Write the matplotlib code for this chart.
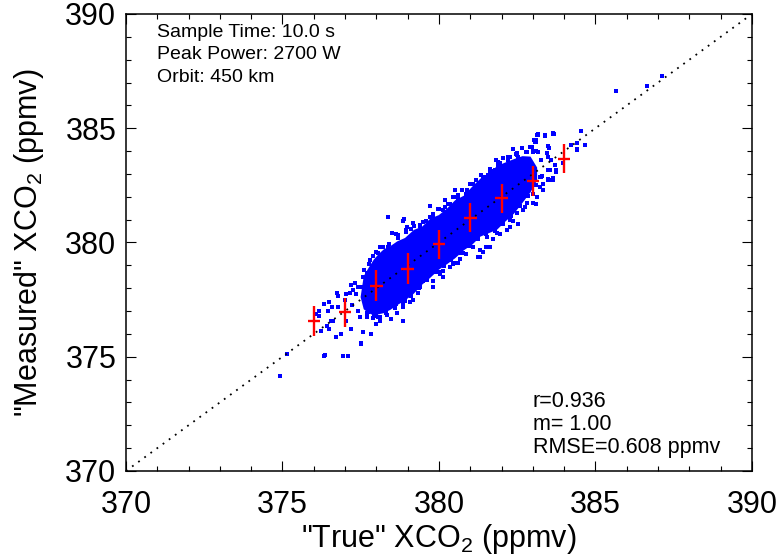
import matplotlib
matplotlib.use("Agg")
import matplotlib.pyplot as plt
from matplotlib.ticker import MultipleLocator

plt.rcParams['font.family'] = ['Liberation Sans', 'DejaVu Sans']
plt.rcParams['mathtext.fontset'] = 'custom'
plt.rcParams['mathtext.rm'] = 'Liberation Sans'
plt.rcParams['mathtext.it'] = 'Liberation Sans'

# dense core of the true/measured cloud (ppmv): outline
core_x = [377.48, 377.58, 377.74, 377.90, 378.06, 378.22, 378.44, 378.65, 378.90,
          379.18, 379.45, 379.71, 379.98, 380.25, 380.50, 380.78, 381.05, 381.31,
          381.58, 381.84, 382.10, 382.38, 382.65, 382.91, 383.12]
core_hi = [377.63, 378.55, 378.92, 379.27, 379.52, 379.72, 379.87, 380.07, 380.22,
           380.57, 380.72, 381.07, 381.22, 381.52, 381.87, 382.07, 382.47, 382.82,
           383.02, 383.37, 383.52, 383.67, 383.80, 383.78, 383.30]
core_lo = [377.63, 377.10, 376.93, 376.83, 376.88, 376.93, 377.08, 377.28, 377.48,
           377.78, 378.18, 378.48, 378.83, 379.08, 379.33, 379.68, 379.93, 380.28,
           380.43, 380.58, 380.93, 381.28, 381.75, 382.22, 382.75]

# scattered soundings around the core
pts_x = [383.14, 383.40, 383.66, 383.11, 382.97, 383.11, 382.79, 382.36, 382.47, 382.20,
         382.52, 381.83, 381.88, 381.62, 381.35, 381.56, 381.19, 380.98, 380.74, 380.87,
         380.50, 380.55, 380.18, 380.34, 379.96, 380.12, 379.80, 379.59, 379.38, 379.11,
         378.84, 378.36, 378.95, 378.63, 378.10, 378.36, 377.99, 377.78, 377.51, 377.19,
         377.35, 377.03, 376.76, 376.50, 376.34, 376.18, 376.07, 376.44, 376.60, 376.87,
         376.71, 376.50, 377.03, 377.19, 377.51, 376.34, 376.92, 377.56, 377.83, 377.99,
         378.10, 378.84, 378.47,
         383.75, 383.48, 383.64, 383.54, 383.22, 383.32, 383.00, 382.74, 382.52, 382.36,
         382.26, 381.94, 381.72, 381.51, 381.30, 381.24, 380.87, 380.66, 380.44, 380.34,
         380.02, 379.80, 379.48, 379.32, 379.06, 378.90, 378.63, 378.31, 378.10, 377.94,
         377.72, 379.11, 379.70, 380.66, 380.12,
         385.67, 387.13, 386.66, 384.54, 384.40, 384.66, 384.23, 384.42, 383.64, 383.16,
         383.38, 383.02, 383.11, 383.51, 382.95, 383.16, 383.48, 383.59, 383.70, 383.73,
         383.48, 383.64, 383.27, 383.09,
         376.35, 377.09, 374.93, 375.14, 377.51, 376.18, 376.18, 376.23, 376.41, 376.55,
         378.38, 378.88, 378.97, 379.39, 379.71, 380.19, 380.46, 380.72, 380.62, 380.88,
         380.99, 381.20, 381.36, 381.47, 381.63, 381.79, 381.90, 382.06, 382.27, 382.48,
         382.64, 382.91, 383.07, 383.17, 383.39, 383.65, 383.49, 383.01, 383.44, 382.06,
         381.52, 380.19, 379.71, 379.18, 378.70, 378.49, 378.11, 378.06, 377.80, 377.85,
         377.69, 377.58, 377.32, 377.42, 377.26, 377.16, 376.73, 377.00, 376.78, 376.57,
         377.21,
         384.40, 383.97, 383.55, 383.65, 383.33, 383.12, 383.01, 382.80, 382.48, 382.27,
         382.06, 382.16, 381.84, 381.63, 381.42, 381.31, 381.10, 380.78, 380.62, 380.35,
         380.14, 380.03, 379.82, 379.61, 379.39, 379.34, 379.18, 379.07, 378.86, 378.65,
         378.33, 378.06, 377.90, 377.69, 377.48, 380.51, 380.30, 380.99, 381.52, 382.70,
         383.23, 383.49,
         377.60, 377.90, 378.20, 378.40, 378.70, 378.95, 379.20, 379.50, 379.80, 380.00,
         380.30, 380.60, 380.90, 381.10, 381.40, 381.70, 381.95, 382.20, 382.50, 382.80,
         383.00, 383.25,
         377.40, 377.70, 378.00, 378.30, 378.60, 378.85, 379.10, 379.35, 379.60, 379.90,
         380.15, 380.40, 380.70, 380.95, 381.25, 381.50, 381.80, 382.05, 382.30, 382.60,
         382.85, 383.10, 383.30]
pts_y = [384.69, 384.69, 384.74, 384.47, 384.18, 383.99, 383.96, 384.11, 383.89, 383.74,
         383.74, 383.60, 383.38, 383.23, 382.94, 382.94, 382.72, 382.57, 382.28, 382.13,
         382.28, 381.99, 381.84, 381.70, 381.48, 381.40, 381.11, 380.96, 380.75, 380.60,
         380.96, 381.11, 380.53, 380.38, 379.79, 379.79, 379.58, 379.06, 378.04, 378.16,
         377.75, 377.75, 377.67, 377.38, 377.31, 377.02, 376.87, 377.02, 376.58, 375.99,
         375.85, 376.21, 376.58, 376.21, 375.59, 375.04, 375.04, 376.07, 375.99, 376.43,
         376.58, 376.58, 376.65,
         383.08, 382.72, 382.75, 383.16, 382.87, 382.57, 382.13, 381.55, 380.82, 380.96,
         380.67, 380.38, 380.16, 379.79, 379.65, 379.36, 379.50, 379.28, 379.06, 378.92,
         378.63, 378.33, 378.33, 378.04, 377.75, 377.46, 377.31, 377.16, 376.73, 376.87,
         376.95, 377.89, 378.92, 379.79, 378.77,
         386.64, 387.28, 386.87, 384.88, 384.36, 384.25, 384.25, 384.07, 384.74, 384.74,
         384.65, 384.50, 384.40, 384.15, 384.18, 383.96, 383.74, 383.60, 383.38, 383.16,
         382.79, 382.79, 382.86, 381.70,
         375.09, 375.04, 374.16, 375.12, 375.56, 377.02, 376.80, 376.11, 376.36, 376.55,
         381.13, 381.01, 380.69, 380.72, 381.60, 381.86, 382.00, 381.86, 382.08, 382.08,
         382.22, 382.37, 382.52, 382.88, 383.03, 383.17, 383.54, 383.68, 383.76, 383.90,
         384.12, 384.19, 384.41, 384.70, 384.70, 384.78, 384.22, 383.98, 383.90, 383.17,
         382.59, 381.57, 381.13, 380.84, 380.33, 380.40, 379.82, 379.53, 379.23, 378.94,
         378.65, 378.51, 378.21, 378.07, 377.92, 377.78, 377.78, 377.48, 377.19, 377.19,
         377.26,
         384.05, 383.46, 382.73, 382.81, 382.30, 382.00, 381.71, 381.71, 381.28, 380.98,
         380.84, 380.55, 380.40, 379.82, 379.60, 379.38, 379.82, 379.53, 379.09, 378.94,
         378.50, 378.72, 378.07, 378.36, 378.07, 377.78, 377.48, 377.41, 377.19, 376.90,
         376.83, 376.75, 376.68, 376.90, 376.75, 379.09, 379.38, 380.11, 380.25, 381.42,
         382.44, 383.17,
         378.80, 379.40, 379.80, 379.95, 380.20, 380.45, 380.70, 380.90, 381.25, 381.45,
         381.70, 381.95, 382.30, 382.55, 382.85, 383.15, 383.50, 383.60, 383.85, 383.95,
         384.00, 383.60,
         377.00, 376.75, 376.80, 376.90, 377.15, 377.35, 377.65, 378.00, 378.35, 378.70,
         378.95, 379.25, 379.55, 379.85, 380.15, 380.35, 380.50, 380.80, 381.15, 381.60,
         382.05, 382.50, 382.90]

# binned means with spread
bin_true = [376, 377, 378, 379, 380, 381, 382, 383, 384]
bin_meas = [376.58, 376.94, 378.11, 378.85, 379.92, 381.08, 381.93, 382.69, 383.67]
bin_std = [0.66, 0.63, 0.69, 0.67, 0.64, 0.64, 0.64, 0.67, 0.63]
bin_halfwidth = 0.2

top_notes = ["Sample Time: 10.0 s", "Peak Power: 2700 W", "Orbit: 450 km"]
stat_notes = ["r=0.936", "m= 1.00", "RMSE=0.608 ppmv"]

fig = plt.figure(figsize=(7.82, 5.55), dpi=100)
ax = fig.add_axes([0.1611, 0.1514, 0.8005, 0.8234])

ax.fill_between(core_x, core_lo, core_hi, color='#0000ff', lw=0)
ax.plot(pts_x, pts_y, 's', color='#0000ff', ms=2.4, mew=0)
ax.plot([370, 390], [370, 390], color='black', lw=1.3, ls=(0, (1, 3.2)))
ax.errorbar(bin_true, bin_meas, xerr=bin_halfwidth, yerr=bin_std, fmt='none',
            ecolor='#ff0000', elinewidth=1.7, capsize=0)

ax.set_xlim(370, 390)
ax.set_ylim(370, 390)
ax.xaxis.set_major_locator(MultipleLocator(5))
ax.yaxis.set_major_locator(MultipleLocator(5))
ax.xaxis.set_minor_locator(MultipleLocator(1))
ax.yaxis.set_minor_locator(MultipleLocator(1))
ax.tick_params(which='both', direction='in', top=True, right=True, width=0.8, labelsize=22)
ax.tick_params(which='major', length=7)
ax.tick_params(which='minor', length=3.5)
ax.tick_params(axis='x', pad=14)
ax.tick_params(axis='y', pad=7)
for s in ax.spines.values():
    s.set_linewidth(1.1)

ax.set_xlabel('"True" XCO$_2$ (ppmv)', fontsize=22)
ax.set_ylabel('"Measured" XCO$_2$ (ppmv)', fontsize=22)
ax.xaxis.set_label_coords(0.5, -0.112)
ax.yaxis.set_label_coords(-0.128, 0.5)

for i, t in enumerate(top_notes):
    ax.text(0.0495, 0.9497 - i * 0.0492, t, transform=ax.transAxes,
            fontsize=14, va='baseline', ha='left')
for i, t in enumerate(stat_notes):
    ax.text(0.650, 0.140 - i * 0.0505, t, transform=ax.transAxes,
            fontsize=15.5, va='baseline', ha='left')

fig.savefig('out.png', dpi=100)
